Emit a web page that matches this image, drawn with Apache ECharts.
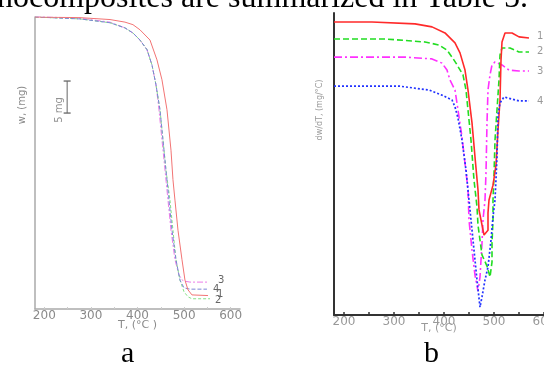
<!DOCTYPE html>
<html><head><meta charset="utf-8">
<script src="https://cdn.jsdelivr.net/npm/echarts@6/dist/echarts.min.js"></script>
<style>html,body{margin:0;padding:0;background:#fff;overflow:hidden}#c{width:544px;height:365px}</style>
</head><body><div id="c"></div>
<script>
// ---- shared axis ticks ----
const xTickLabels = [200, 300, 400, 500, 600];
const xTickMarks = [200, 250, 300, 350, 400, 450, 500, 550, 600];
const curveNames = ['1', '2', '3', '4'];

// ---- (a) TGA: [T (°C), w (mg)] ----
const tga1 = [[180,45.6],[276.6,45.5],[341,45.2],[373.1,44.8],[390.3,44.4],[405.3,43.6],[426.8,42.0],[441.8,38.9],[452.5,35.8],[463.3,31.1],[471.9,24.8],[476.1,20.2],[480.4,17.0],[486.9,12.3],[495.5,7.7],[501.9,4.5],[508.3,3.0],[516.9,2.2],[551.3,2.1]];
const tga2 = [[180,45.6],[276.6,45.3],[341,44.7],[373.1,43.9],[390.3,43.1],[405.3,42.0],[420.4,40.5],[431.1,38.1],[439.7,35.0],[448.3,31.1],[454.7,26.4],[461.1,21.7],[469.7,17.0],[476.1,12.3],[482.6,7.7],[491.2,4.5],[499.8,2.7],[508.3,1.9],[516.9,1.6],[555.6,1.6]];
const tga3 = [[180,45.7],[276.6,45.4],[341,44.8],[373.1,43.9],[390.3,43.1],[405.3,42.0],[420.4,40.5],[431.1,38.1],[439.7,35.0],[446.1,31.1],[452.5,26.4],[459.0,21.7],[465.4,17.0],[471.9,12.3],[480.4,7.7],[489.0,5.3],[497.6,4.4],[512.6,4.2],[551.3,4.2]];
const tga4 = [[180,45.6],[276.6,45.3],[341,44.7],[373.1,43.9],[390.3,43.1],[405.3,42.0],[420.4,40.5],[431.1,38.1],[439.7,35.0],[448.3,31.1],[454.7,26.4],[461.1,21.7],[467.6,17.0],[474.0,12.3],[482.6,7.7],[491.2,4.5],[499.8,3.3],[512.6,3.1],[549.1,3.1]];
const scaleBar = [[249,30.6],[249,35.6]];
const scaleBarLabel = [[249,33.1]];

// ---- (b) DTG: [T (°C), dw/dT (arb.)] ----
const dtg1 = [[180,97.0],[256,97.0],[342,96.4],[376,95.4],[402,93.4],[422,90.1],[432,86.8],[442,81.1],[448,74.5],[456,63.6],[462,52.3],[468,41.4],[470,34.8],[476,29.8],[480,26.5],[488,28.1],[488,33.8],[490,38.1],[498,43.0],[504,49.7],[508,61.3],[512,71.2],[514,84.4],[516,90.4],[522,93.4],[536,93.4],[550,92.1],[570,91.7]];
const dtg2 = [[180,91.4],[282,91.4],[362,90.4],[390,89.4],[406,87.7],[416,85.4],[424,83.4],[438,79.5],[444,74.5],[448,67.9],[454,57.9],[460,44.7],[466,35.8],[468,29.8],[472,24.8],[476,19.9],[486,16.2],[492,12.6],[496,17.5],[496,23.8],[498,31.5],[498,38.1],[500,46.4],[502,57.9],[506,67.9],[510,77.8],[512,86.1],[516,88.4],[532,88.4],[550,87.1],[570,87.1]];
const dtg3 = [[180,85.4],[322,85.4],[376,84.8],[396,83.4],[406,81.1],[412,77.8],[422,74.5],[428,67.9],[436,58.9],[442,50.3],[448,41.4],[450,31.5],[456,21.5],[462,13.2],[468,7.9],[472,12.6],[476,23.8],[478,31.5],[482,38.1],[484,47.0],[486,63.6],[488,74.5],[492,79.5],[496,82.8],[502,83.8],[516,82.8],[530,81.1],[550,80.8],[570,80.8]];
const dtg4 = [[180,75.8],[310,75.8],[370,74.5],[396,72.8],[416,71.2],[422,68.9],[428,65.2],[436,57.9],[444,48.0],[452,34.8],[460,21.5],[466,11.6],[472,2.6],[476,6.0],[482,11.6],[488,15.9],[494,24.8],[498,32.5],[502,38.1],[506,52.3],[508,66.2],[512,70.2],[520,72.2],[536,71.5],[550,70.9],[570,70.9]];

const chart = echarts.init(document.getElementById('c'), null, {renderer: 'canvas'});

function lineSeries(data, xi, color, type, width, label, off, z) {
  return {
    type: 'line', xAxisIndex: xi, yAxisIndex: xi, data: data,
    showSymbol: false, symbol: 'none', smooth: false, z: z,
    lineStyle: {color: color, width: width, type: type},
    endLabel: {show: true, formatter: label, color: xi === 0 ? '#666' : '#999',
      fontFamily: 'DejaVu Sans', fontSize: 10, offset: off},
    emphasis: {disabled: true}
  };
}

const axisTextStyle = {fontFamily: 'DejaVu Sans', fontSize: 12};

chart.setOption({
  animation: false,
  graphic: [
    {type: 'text', left: -3, top: -17, style: {text: 'nocomposites are summarized in Table 5.', font: '32px "Liberation Serif"', fill: '#000'}},
    {type: 'text', left: 121, top: 339, style: {text: 'a', font: '30px "Liberation Serif"', fill: '#000'}},
    {type: 'text', left: 424, top: 339, style: {text: 'b', font: '30px "Liberation Serif"', fill: '#000'}},
    {type: 'text', x: 22, y: 105, rotation: Math.PI / 2,
      style: {text: 'w, (mg)', align: 'center', verticalAlign: 'middle', font: '10px "DejaVu Sans"', fill: '#8a8a8a'}},
    {type: 'text', x: 320, y: 110, rotation: Math.PI / 2,
      style: {text: 'dw/dT, (mg/°C)', align: 'center', verticalAlign: 'middle', font: '8px "DejaVu Sans"', fill: '#999'}}
  ],
  grid: [
    {left: 35, top: 17, width: 205, height: 292, outerBoundsMode: 'none', containLabel: false},
    {left: 334, top: 13, width: 210, height: 302, outerBoundsMode: 'none', containLabel: false}
  ],
  xAxis: [
    {type: 'value', gridIndex: 0, min: 180, max: 620,
      axisLine: {show: true, onZero: false, lineStyle: {color: '#aaa', width: 1.5}},
      axisTick: {show: true, inside: true, length: 2, customValues: xTickMarks, lineStyle: {color: '#ccc'}},
      axisLabel: Object.assign({customValues: xTickLabels, color: '#8a8a8a', margin: 1}, axisTextStyle),
      splitLine: {show: false},
      name: 'T, (°C )', nameLocation: 'middle', nameGap: 11, nameMoveOverlap: false,
      nameTextStyle: {color: '#8a8a8a', fontFamily: 'DejaVu Sans', fontSize: 11}},
    {type: 'value', gridIndex: 1, min: 180, max: 600,
      axisLine: {show: true, onZero: false, lineStyle: {color: '#333', width: 2}},
      axisTick: {show: true, inside: true, length: 3, customValues: xTickMarks, lineStyle: {color: '#333', width: 1.5}},
      axisLabel: Object.assign({customValues: xTickLabels, color: '#999', margin: 1}, axisTextStyle),
      splitLine: {show: false},
      name: 'T, (°C)', nameLocation: 'middle', nameGap: 8, nameMoveOverlap: false,
      nameTextStyle: {color: '#999', fontFamily: 'DejaVu Sans', fontSize: 11}}
  ],
  yAxis: [
    {type: 'value', gridIndex: 0, min: 0, max: 45.6,
      axisLine: {show: true, onZero: false, lineStyle: {color: '#aaa', width: 1.5}},
      axisTick: {show: false}, axisLabel: {show: false}, splitLine: {show: false}},
    {type: 'value', gridIndex: 1, min: 0, max: 100,
      axisLine: {show: true, onZero: false, lineStyle: {color: '#333', width: 2}},
      axisTick: {show: false}, axisLabel: {show: false}, splitLine: {show: false}}
  ],
  series: [
    lineSeries(tga3, 0, '#ea7ce8', [6, 2, 2, 2], 1, curveNames[2], [2, -2], 2),
    lineSeries(tga4, 0, '#7b86d6', [4, 2], 1, curveNames[3], [-2, 0], 3),
    lineSeries(tga2, 0, '#86e086', [3, 2], 1, curveNames[1], [-3, 2], 2),
    lineSeries(tga1, 0, '#f27474', 'solid', 1, curveNames[0], [1, -1], 4),
    {type: 'line', xAxisIndex: 0, yAxisIndex: 0, data: scaleBar, symbol: 'rect', symbolSize: [7, 1.3],
      showSymbol: true, itemStyle: {color: '#666'}, lineStyle: {color: '#666', width: 1}, emphasis: {disabled: true}},
    {type: 'scatter', xAxisIndex: 0, yAxisIndex: 0, data: scaleBarLabel, symbolSize: 0,
      label: {show: true, formatter: '5 mg', position: 'left', distance: 8, rotate: 90, color: '#777',
        fontFamily: 'DejaVu Sans', fontSize: 10}, emphasis: {disabled: true}},
    lineSeries(dtg3, 1, '#ff30ff', [8, 3, 2, 3], 1.6, curveNames[2], [0, 0], 2),
    lineSeries(dtg2, 1, '#22dd22', [6, 3], 1.6, curveNames[1], [0, -1], 3),
    lineSeries(dtg1, 1, '#ff2a2a', 'solid', 1.6, curveNames[0], [0, -2], 4),
    lineSeries(dtg4, 1, '#2233ff', [2, 2], 1.7, curveNames[3], [0, 1], 5)
  ]
});
</script></body></html>
